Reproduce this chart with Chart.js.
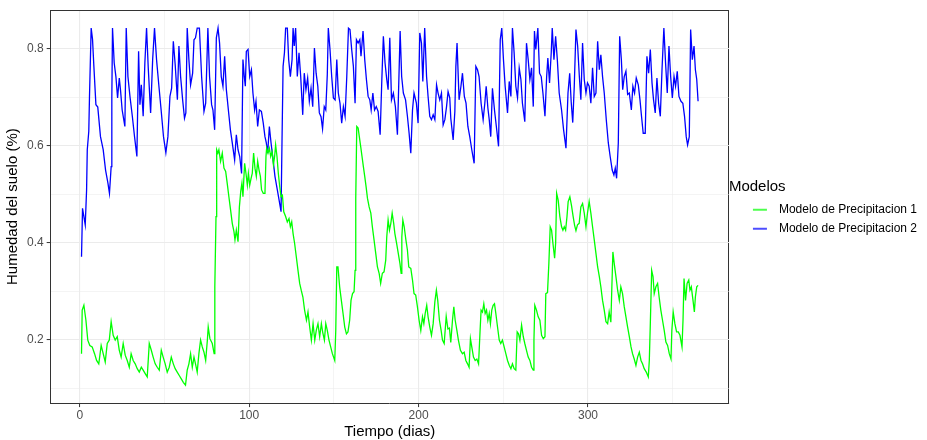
<!DOCTYPE html>
<html>
<head>
<meta charset="UTF-8" />
<title>Humedad del suelo</title>
<script src="https://cdn.jsdelivr.net/npm/chart.js"></script>
<style>
  body { margin: 0; padding: 0; background: #fff; }
  canvas { display: block; }
</style>
</head>
<body>
<canvas id="myChart" width="927" height="440"></canvas>
<script>
// series names
const modelos = ['Modelo de Precipitacion 1', 'Modelo de Precipitacion 2'];

// [dia, humedad] (turning points of each line)
const modelo1 = [
  [1,0.171],[1.4,0.261],[2.4,0.271],[3.6,0.24],[4.7,0.199],[5.9,0.188],[7.3,0.185],[8.7,0.171],[9.9,0.157],[11.2,0.15],
  [12.6,0.188],[13.8,0.171],[15,0.154],[16.2,0.192],[17.4,0.199],[18.5,0.237],[19.7,0.209],[20.9,0.199],[22.1,0.206],[23.3,0.178],
  [24.4,0.164],[25.6,0.192],[26.8,0.168],[28,0.157],[29.2,0.143],[30.3,0.171],[31.5,0.157],[32.7,0.15],[33.9,0.14],[35.1,0.133],
  [36.3,0.143],[37.4,0.137],[38.6,0.13],[39.8,0.123],[41,0.192],[42.2,0.178],[43.3,0.164],[44.5,0.15],[45.7,0.143],[46.9,0.137],
  [48.1,0.178],[49.2,0.164],[50.4,0.15],[51.6,0.133],[52.8,0.143],[54,0.164],[55.2,0.15],[56.3,0.14],[57.5,0.133],[58.7,0.126],
  [59.9,0.119],[61.1,0.112],[62.4,0.106],[63.4,0.137],[64.4,0.15],[65.4,0.171],[66.4,0.143],[67.4,0.164],[68.3,0.15],[69.3,0.133],
  [70.3,0.171],[71.3,0.199],[72.3,0.185],[73.3,0.174],[74.3,0.157],[75.3,0.199],[75.8,0.226],[76.8,0.202],[78.2,0.192],[79.3,0.171],
  [79.7,0.309],[80.4,0.454],[80.8,0.592],[81.5,0.585],[82.1,0.592],[83.1,0.568],[84.1,0.585],[85.1,0.554],[86.1,0.547],[87,0.523],
  [88,0.495],[89,0.468],[90,0.44],[91,0.423],[91.6,0.406],[92.4,0.426],[93.4,0.402],[94.2,0.474],[95,0.506],[95.7,0.523],
  [96.3,0.495],[97.3,0.564],[98.1,0.543],[98.9,0.519],[99.5,0.543],[100.3,0.519],[101.1,0.533],[101.8,0.543],[102.6,0.585],[103.4,0.554],
  [104.2,0.537],[105,0.568],[105.8,0.55],[106.6,0.537],[107.3,0.509],[108.3,0.502],[109.3,0.502],[109.9,0.578],[110.3,0.595],[111.1,0.585],
  [111.9,0.595],[112.7,0.578],[113.5,0.588],[114.3,0.561],[115,0.578],[115.6,0.602],[116.4,0.578],[117.2,0.543],[118,0.516],[118.8,0.495],
  [119.6,0.498],[120.4,0.464],[121.5,0.454],[122.5,0.443],[123.5,0.45],[124.3,0.433],[125.1,0.443],[125.9,0.419],[126.8,0.399],[127.8,0.371],
  [128.8,0.343],[129.8,0.316],[130.7,0.302],[131.7,0.288],[132.7,0.261],[133.8,0.24],[134.7,0.257],[135.7,0.226],[136.7,0.199],[137.7,0.233],
  [138.7,0.199],[139.6,0.219],[140.6,0.233],[141.6,0.206],[142.6,0.233],[143.4,0.215],[144.4,0.199],[145.2,0.233],[146.1,0.219],[147.1,0.199],
  [148.1,0.185],[149.1,0.171],[150.5,0.157],[151.1,0.219],[151.7,0.35],[152.4,0.35],[153.4,0.309],[154.4,0.281],[155.4,0.254],[156.4,0.226],
  [157.4,0.212],[158.3,0.216],[159.3,0.24],[160.1,0.281],[161,0.295],[161.9,0.299],[162.5,0.343],[162.9,0.492],[163.5,0.64],[164.3,0.637],
  [165,0.619],[165.8,0.599],[166.6,0.578],[167.4,0.557],[168.2,0.537],[169,0.516],[169.8,0.492],[170.8,0.474],[171.8,0.461],[172.7,0.433],
  [173.7,0.406],[174.7,0.378],[175.7,0.35],[176.7,0.337],[177.6,0.316],[178.6,0.337],[179.6,0.34],[180.6,0.364],[181.2,0.412],[182,0.447],
  [182.8,0.426],[183.6,0.44],[184.4,0.461],[185.3,0.44],[186,0.419],[187,0.399],[188,0.378],[189,0.357],[189.7,0.337],[190.1,0.412],
  [190.7,0.447],[191.5,0.433],[192.5,0.406],[193.4,0.385],[194.2,0.35],[195.4,0.347],[196.4,0.323],[197.3,0.295],[198.3,0.292],[199.3,0.268],
  [200.3,0.24],[201.3,0.219],[202.3,0.247],[203.1,0.233],[203.9,0.254],[204.8,0.271],[205.6,0.247],[206.6,0.226],[207.6,0.209],[208.6,0.233],
  [209.6,0.278],[210.5,0.302],[211.3,0.281],[212.3,0.24],[213.3,0.219],[214.1,0.199],[215.1,0.192],[216.3,0.248],[217.3,0.222],[218.2,0.224],
  [219,0.194],[220,0.24],[220.8,0.268],[221.6,0.24],[222.6,0.219],[223.5,0.199],[224.7,0.178],[225.9,0.171],[226.9,0.174],[227.9,0.157],
  [228.9,0.15],[229.8,0.143],[230.6,0.202],[231.4,0.185],[232.4,0.164],[233.4,0.157],[234.4,0.16],[235.4,0.15],[236.3,0.219],[236.9,0.261],
  [237.7,0.257],[238.5,0.274],[239.3,0.254],[240.1,0.261],[240.9,0.24],[241.7,0.254],[242.4,0.233],[243.2,0.261],[244,0.271],[244.8,0.274],
  [245.6,0.254],[246.6,0.226],[247.6,0.199],[248.5,0.192],[249.5,0.199],[250.5,0.185],[251.5,0.171],[252.5,0.157],[253.5,0.147],[254.5,0.14],
  [255.4,0.15],[256.4,0.14],[257.4,0.137],[258.2,0.216],[259,0.212],[259.8,0.199],[260.8,0.23],[261.8,0.206],[262.7,0.192],[263.7,0.178],
  [264.7,0.164],[265.7,0.157],[266.7,0.143],[267.7,0.137],[268.1,0.199],[268.6,0.271],[269.6,0.261],[270.6,0.247],[271.6,0.24],[272.6,0.209],
  [273.6,0.202],[274.6,0.206],[275.1,0.295],[276.1,0.297],[276.9,0.357],[277.7,0.433],[278.5,0.426],[279.3,0.399],[280.3,0.368],[280.9,0.399],
  [281.5,0.502],[282.4,0.488],[283.4,0.454],[284.4,0.433],[285.2,0.426],[286,0.433],[286.8,0.426],[287.6,0.454],[288.3,0.485],[289.3,0.495],
  [290.3,0.476],[291.2,0.455],[292.1,0.436],[292.9,0.425],[293.8,0.437],[294.8,0.44],[295.8,0.474],[296.8,0.481],[297.8,0.461],[298.8,0.433],
  [299.7,0.461],[300.7,0.485],[301.7,0.461],[302.7,0.433],[303.7,0.406],[304.7,0.378],[305.7,0.35],[306.7,0.33],[307.6,0.309],[308.6,0.281],
  [309.6,0.261],[310.6,0.237],[311.6,0.233],[312.5,0.257],[313.5,0.236],[314.1,0.309],[314.7,0.381],[315.5,0.357],[316.5,0.33],[317.5,0.302],
  [318.5,0.281],[319.4,0.309],[320.4,0.295],[321.4,0.268],[322.4,0.247],[323.4,0.226],[324.4,0.206],[325.4,0.185],[326.3,0.171],[327.3,0.16],
  [328.3,0.147],[329.3,0.164],[330.3,0.174],[331.3,0.157],[332.2,0.15],[333.2,0.14],[334.4,0.133],[335.6,0.123],[336.2,0.157],[336.8,0.233],
  [337.6,0.343],[338.4,0.33],[339.1,0.295],[340.1,0.309],[341.1,0.316],[342,0.288],[343,0.261],[344,0.24],[345,0.219],[346,0.195],
  [347,0.188],[348,0.171],[349,0.16],[349.5,0.219],[350.3,0.257],[351.3,0.233],[352.3,0.216],[353.3,0.216],[354.3,0.209],[355.5,0.185],
  [356.1,0.24],[356.7,0.326],[357.6,0.281],[358.5,0.316],[359.5,0.323],[360.2,0.302],[361,0.309],[362,0.281],[362.8,0.257],[363.4,0.288],
  [364.2,0.309],[365,0.312]
];

const modelo2 = [
  [1,0.371],[1.6,0.471],[3.2,0.437],[4,0.509],[4.4,0.592],[5.3,0.63],[5.7,0.7],[6.7,0.843],[7.5,0.82],[8.3,0.764],
  [9.5,0.685],[10.6,0.68],[12.2,0.619],[13.8,0.592],[15.2,0.55],[16.6,0.523],[17.5,0.502],[18.5,0.557],[18.9,0.699],[19.3,0.843],
  [20.3,0.771],[21.3,0.743],[22.3,0.699],[23.3,0.74],[24,0.716],[25,0.674],[26.6,0.64],[27.4,0.843],[28.4,0.743],[29.6,0.702],
  [31,0.661],[32.3,0.619],[33.7,0.578],[34.7,0.795],[35.5,0.685],[36.3,0.726],[37.4,0.661],[38.4,0.771],[39.4,0.843],[40.4,0.761],
  [41.8,0.668],[43,0.778],[44.1,0.843],[45.3,0.778],[46.7,0.723],[48,0.674],[49.4,0.619],[50.8,0.586],[52,0.619],[53.2,0.702],
  [54.2,0.719],[55.2,0.816],[56.3,0.768],[57.6,0.695],[58.5,0.806],[59.5,0.743],[60.7,0.695],[61.8,0.657],[62.6,0.668],[63.4,0.843],
  [64.4,0.778],[65.4,0.726],[66.6,0.75],[67.4,0.819],[68.3,0.823],[69.3,0.843],[70.6,0.843],[71.9,0.743],[73.3,0.671],[74.3,0.688],
  [75.6,0.843],[76.6,0.743],[77.8,0.685],[78.6,0.674],[79.6,0.633],[80.6,0.823],[81.6,0.843],[82.5,0.812],[83.5,0.743],[84.5,0.723],
  [85.5,0.785],[86.5,0.716],[87.7,0.674],[88.9,0.633],[90,0.606],[91.4,0.571],[92.4,0.623],[93.4,0.592],[94.4,0.578],[95.5,0.543],
  [96.3,0.778],[97.1,0.743],[97.7,0.723],[98.3,0.795],[99.3,0.799],[100.3,0.743],[101.3,0.757],[102.2,0.709],[103.2,0.674],[104,0.692],
  [105,0.64],[106,0.674],[107.2,0.671],[108.3,0.647],[109.3,0.619],[110.1,0.606],[110.9,0.585],[111.9,0.64],[112.9,0.606],[114.1,0.571],
  [115.2,0.537],[116.6,0.509],[117.8,0.485],[118.8,0.464],[119.4,0.619],[120,0.764],[120.8,0.792],[121.5,0.843],[122.5,0.843],[123.3,0.778],
  [124.3,0.743],[125.3,0.778],[125.9,0.843],[126.6,0.806],[127.4,0.843],[128.4,0.743],[129.4,0.792],[130.4,0.743],[131.6,0.664],[132.5,0.75],
  [133.5,0.716],[134.5,0.74],[135.5,0.692],[136.5,0.719],[137.5,0.681],[138.5,0.802],[139.5,0.75],[140.5,0.723],[141.4,0.668],[142.4,0.66],
  [143.3,0.635],[144.3,0.681],[145.2,0.674],[146.1,0.747],[146.7,0.843],[147.7,0.799],[148.7,0.743],[149.7,0.699],[150.7,0.695],[151.7,0.778],
  [152.6,0.709],[153.6,0.688],[154.6,0.647],[155.6,0.681],[156.6,0.661],[157.6,0.743],[158.6,0.843],[159.5,0.84],[160.5,0.799],[161.5,0.764],
  [162.5,0.688],[163.3,0.819],[164.3,0.812],[165.3,0.819],[166,0.785],[167.2,0.837],[168.2,0.778],[169.2,0.737],[170.2,0.702],[171.2,0.695],
  [172,0.674],[173,0.709],[174,0.674],[175,0.681],[176.1,0.671],[177.3,0.623],[178.3,0.737],[179.2,0.826],[180.2,0.771],[181.2,0.737],
  [182,0.716],[183,0.823],[184,0.695],[185.1,0.709],[186.3,0.681],[187.5,0.623],[188.5,0.757],[189.1,0.837],[190,0.743],[191,0.709],
  [192.3,0.695],[193.4,0.661],[194.4,0.626],[195.4,0.585],[196.4,0.674],[197.3,0.709],[198.7,0.688],[199.7,0.647],[200.7,0.833],[201.7,0.812],
  [202.5,0.733],[203.6,0.843],[204.7,0.743],[205.6,0.702],[206.6,0.661],[207.6,0.654],[208.6,0.664],[209.6,0.654],[210.6,0.726],[211.5,0.709],
  [212.5,0.695],[213.5,0.709],[214.5,0.643],[215.5,0.654],[216.5,0.681],[217.4,0.712],[218.4,0.699],[219,0.657],[220.4,0.612],[221.4,0.671],
  [222,0.764],[222.7,0.812],[223.9,0.695],[225,0.723],[225.9,0.75],[227,0.702],[228,0.688],[229.1,0.64],[230.2,0.619],[231.4,0.592],
  [232.8,0.564],[233.8,0.764],[234.8,0.757],[235.7,0.743],[236.9,0.688],[238.1,0.654],[239.1,0.688],[239.9,0.723],[240.9,0.678],[241.7,0.654],
  [242.6,0.619],[243.6,0.719],[244.8,0.674],[245.9,0.64],[247.2,0.599],[248.2,0.819],[249.1,0.843],[250.1,0.778],[251.1,0.723],[252.5,0.668],
  [253.5,0.733],[254.5,0.702],[255.4,0.843],[256.4,0.792],[257.4,0.723],[258.4,0.699],[259.4,0.761],[260.4,0.737],[261.3,0.688],[262.7,0.65],
  [263.7,0.812],[264.7,0.778],[265.7,0.737],[266.7,0.761],[267.7,0.681],[268.4,0.837],[269.2,0.799],[270.4,0.843],[271.4,0.75],[272.4,0.743],
  [273.4,0.709],[274.6,0.661],[275.6,0.743],[276.3,0.781],[277.3,0.73],[278.3,0.792],[278.9,0.843],[279.9,0.778],[280.9,0.826],[281.9,0.778],
  [283,0.709],[284.4,0.674],[285.6,0.633],[287,0.595],[288.2,0.709],[289.2,0.75],[290.1,0.69],[291,0.648],[291.9,0.723],[292.9,0.84],
  [293.9,0.806],[294.9,0.743],[295.8,0.695],[296.8,0.812],[297.8,0.737],[298.8,0.709],[299.7,0.73],[300.7,0.723],[301.7,0.688],[302.7,0.761],
  [303.7,0.702],[304.7,0.709],[305.7,0.816],[306.7,0.757],[307.6,0.788],[308.6,0.743],[309.6,0.709],[310.8,0.654],[312,0.606],[313.1,0.578],
  [314.3,0.55],[315.3,0.54],[316.1,0.554],[316.9,0.533],[317.9,0.606],[318.7,0.826],[319.7,0.778],[320.5,0.716],[321.4,0.743],[322.4,0.754],
  [323.4,0.706],[324.4,0.709],[325.6,0.674],[326.5,0.723],[327.5,0.709],[328.5,0.74],[329.7,0.726],[330.7,0.695],[331.6,0.661],[332.6,0.626],
  [333.8,0.626],[334.8,0.785],[335.8,0.75],[336.8,0.799],[337.8,0.73],[338.7,0.695],[339.7,0.668],[340.7,0.74],[341.7,0.688],[342.7,0.661],
  [343.7,0.757],[344.8,0.843],[345.8,0.771],[346.8,0.709],[347.8,0.806],[348.8,0.743],[349.8,0.699],[350.8,0.743],[351.7,0.723],[352.7,0.754],
  [353.7,0.702],[354.9,0.692],[356,0.688],[357,0.661],[358,0.619],[358.8,0.602],[359.8,0.619],[360.6,0.84],[361.6,0.778],[362.6,0.806],
  [363.4,0.757],[364.2,0.737],[365,0.692]
];

// axis ticks (major labelled, minor only gridlines)
const xTicks = [0, 100, 200, 300];
const xMinor = [50, 150, 250, 350];
const yTicks = [0.2, 0.4, 0.6, 0.8];
const yMinor = [0.1, 0.3, 0.5, 0.7];
const xRange = [-17.2, 383.2];
const yRange = [0.069, 0.880];

const colores = ['#00FF00', '#0000FF'];
const FONT = "'Liberation Sans', Arial, sans-serif";
const FRAME = '#333333';
const GRID = '#EBEBEB';

// short line legend key like ggplot, with empty room on its left
function legendKey(color) {
  const c = document.createElement('canvas');
  c.width = 37; c.height = 12;
  const g = c.getContext('2d');
  g.strokeStyle = color;
  g.lineWidth = 1.4;
  g.beginPath();
  g.moveTo(17, 6);
  g.lineTo(31, 6);
  g.stroke();
  return c;
}

const near = (list, v) => list.some(t => Math.abs(t - v) < 1e-6);

// gridlines: major, minor, and the far edge used as the panel frame
function gridColor(edge) {
  return c => near([edge], c.tick.value) ? FRAME : GRID;
}
function gridWidth(major, edge) {
  return c => near([edge], c.tick.value) ? 1 : (near(major, c.tick.value) ? 1.1 : 0.55);
}
function tickColor(major) {
  return c => near(major, c.tick.value) ? FRAME : 'rgba(0,0,0,0)';
}

const ctx = document.getElementById('myChart').getContext('2d');
new Chart(ctx, {
  type: 'line',
  data: {
    datasets: [
      {
        label: modelos[0],
        data: modelo1.map(p => ({ x: p[0], y: p[1] })),
        borderColor: colores[0],
        borderWidth: 1.3,
        pointRadius: 0,
        pointStyle: legendKey(colores[0]),
        tension: 0,
        fill: false
      },
      {
        label: modelos[1],
        data: modelo2.map(p => ({ x: p[0], y: p[1] })),
        borderColor: colores[1],
        borderWidth: 1.3,
        pointRadius: 0,
        pointStyle: legendKey(colores[1]),
        tension: 0,
        fill: false
      }
    ]
  },
  options: {
    responsive: false,
    animation: false,
    layout: { padding: { top: 10, left: 0, right: 0, bottom: 0 } },
    plugins: {
      tooltip: { enabled: false },
      legend: {
        position: 'right',
        align: 'start',
        fullSize: false,
        title: {
          display: true,
          text: 'Modelos',
          position: 'start',
          color: '#000',
          font: { family: FONT, size: 15, lineHeight: 1.0 },
          padding: { top: 169.5, bottom: 2 }
        },
        labels: {
          usePointStyle: true,
          pointStyleWidth: 37,
          color: '#000',
          font: { family: FONT, size: 12 },
          padding: 7
        }
      }
    },
    scales: {
      x: {
        type: 'linear',
        min: xRange[0],
        max: xRange[1],
        afterBuildTicks: s => {
          s.ticks = xTicks.concat(xMinor).sort((a, b) => a - b).concat([xRange[1]]).map(v => ({ value: v }));
        },
        ticks: {
          color: '#4D4D4D',
          font: { family: FONT, size: 12 },
          padding: 1,
          maxRotation: 0,
          autoSkip: false,
          callback: v => near(xTicks, v) ? String(v) : ''
        },
        grid: {
          color: gridColor(xRange[1]),
          lineWidth: gridWidth(xTicks, xRange[1]),
          tickColor: tickColor(xTicks),
          tickLength: 4,
          tickWidth: 1
        },
        border: { display: true, color: FRAME, width: 1 },
        title: {
          display: true,
          text: 'Tiempo (dias)',
          color: '#000',
          font: { family: FONT, size: 15, lineHeight: 1.1 },
          padding: { top: 0, bottom: 0 }
        }
      },
      y: {
        type: 'linear',
        min: yRange[0],
        max: yRange[1],
        afterBuildTicks: s => {
          s.ticks = yTicks.concat(yMinor).sort((a, b) => a - b).concat([yRange[1]]).map(v => ({ value: v }));
        },
        ticks: {
          color: '#4D4D4D',
          font: { family: FONT, size: 12 },
          padding: 3,
          autoSkip: false,
          callback: v => near(yTicks, v) ? v.toFixed(1) : ''
        },
        grid: {
          color: gridColor(yRange[1]),
          lineWidth: gridWidth(yTicks, yRange[1]),
          tickColor: tickColor(yTicks),
          tickLength: 4,
          tickWidth: 1
        },
        border: { display: true, color: FRAME, width: 1 },
        title: {
          display: true,
          text: 'Humedad del suelo (%)',
          color: '#000',
          font: { family: FONT, size: 15, lineHeight: 1.0 },
          padding: { top: 5, bottom: 4 }
        }
      }
    }
  }
});
</script>
</body>
</html>
